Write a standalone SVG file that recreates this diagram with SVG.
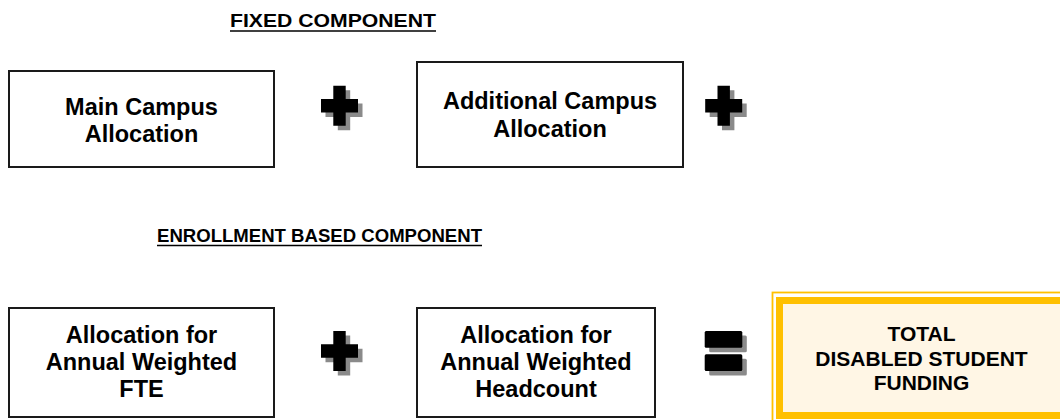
<svg xmlns="http://www.w3.org/2000/svg" width="1060" height="420" viewBox="0 0 1060 420">
<style>
.box{fill:#fff;stroke:#1a1a1a;stroke-width:2}
.t{font-family:"Liberation Sans",Arial,sans-serif;font-weight:bold;fill:#000;text-anchor:middle}
.bt{font-size:23.5px}
.tt{font-size:21px}
.title{font-family:"Liberation Sans",Arial,sans-serif;font-weight:bold;font-size:18.5px;fill:#000}
.ul{stroke:#000;stroke-width:1.6}
.shadow{fill:#8a8a8a}
.op{fill:#000}
</style>
<defs>
<path id="plus" d="M-6.2,-20h12.4v13.2h12.3v13.6h-12.3v13.2h-12.4v-13.2h-12.3v-13.6h12.3z"/>
<g id="eq">
<rect x="-18.8" y="-20" width="37.6" height="16.7" rx="1.5"/>
<rect x="-18.8" y="3.3" width="37.6" height="16.7" rx="1.5"/>
</g>
</defs>

<g id="title-fixed">
<text class="title" x="230" y="27" textLength="206" lengthAdjust="spacingAndGlyphs">FIXED COMPONENT</text>
<line class="ul" x1="230" y1="31" x2="436" y2="31"/>
</g>
<g id="title-enrollment">
<text class="title" x="157" y="241.5" textLength="325" lengthAdjust="spacingAndGlyphs">ENROLLMENT BASED COMPONENT</text>
<line class="ul" x1="157" y1="245.5" x2="482" y2="245.5"/>
</g>

<g id="main-campus">
<rect class="box" x="9" y="71" width="265" height="96"/>
<text class="t bt" x="141.5" y="115">Main Campus</text>
<text class="t bt" x="141.5" y="142">Allocation</text>
</g>

<g id="additional-campus">
<rect class="box" x="417" y="62" width="266" height="105"/>
<text class="t bt" x="550" y="108.5">Additional Campus</text>
<text class="t bt" x="550" y="136.5">Allocation</text>
</g>

<g id="fte">
<rect class="box" x="9" y="308" width="265" height="109"/>
<text class="t bt" x="141.5" y="343">Allocation for</text>
<text class="t bt" x="141.5" y="370">Annual Weighted</text>
<text class="t bt" x="141.5" y="397">FTE</text>
</g>

<g id="headcount">
<rect class="box" x="417" y="308" width="238" height="109"/>
<text class="t bt" x="536" y="343">Allocation for</text>
<text class="t bt" x="536" y="370">Annual Weighted</text>
<text class="t bt" x="536" y="397">Headcount</text>
</g>

<g id="total">
<rect x="772.5" y="292.5" width="298" height="132" fill="none" stroke="#FFC000" stroke-width="1.8"/>
<rect x="779.5" y="300.5" width="284" height="115" fill="#FFF6E5" stroke="#FFC000" stroke-width="7"/>
<text class="t tt" x="921.5" y="341">TOTAL</text>
<text class="t tt" x="921.5" y="365.5">DISABLED STUDENT</text>
<text class="t tt" x="921.5" y="390">FUNDING</text>
</g>

<g id="connectors">
<g id="plus-1" transform="translate(339.5,105.7)">
<use href="#plus" class="shadow" x="4.5" y="4.5"/>
<use href="#plus" class="op"/>
</g>
<g id="plus-2" transform="translate(723.7,105.7)">
<use href="#plus" class="shadow" x="4.5" y="4.5"/>
<use href="#plus" class="op"/>
</g>
<g id="plus-3" transform="translate(339.5,351)">
<use href="#plus" class="shadow" x="4.5" y="4.5"/>
<use href="#plus" class="op"/>
</g>
<g id="equals" transform="translate(723.5,351)">
<use href="#eq" class="shadow" x="4.5" y="4.5"/>
<use href="#eq" class="op"/>
</g>
</g>
</svg>
